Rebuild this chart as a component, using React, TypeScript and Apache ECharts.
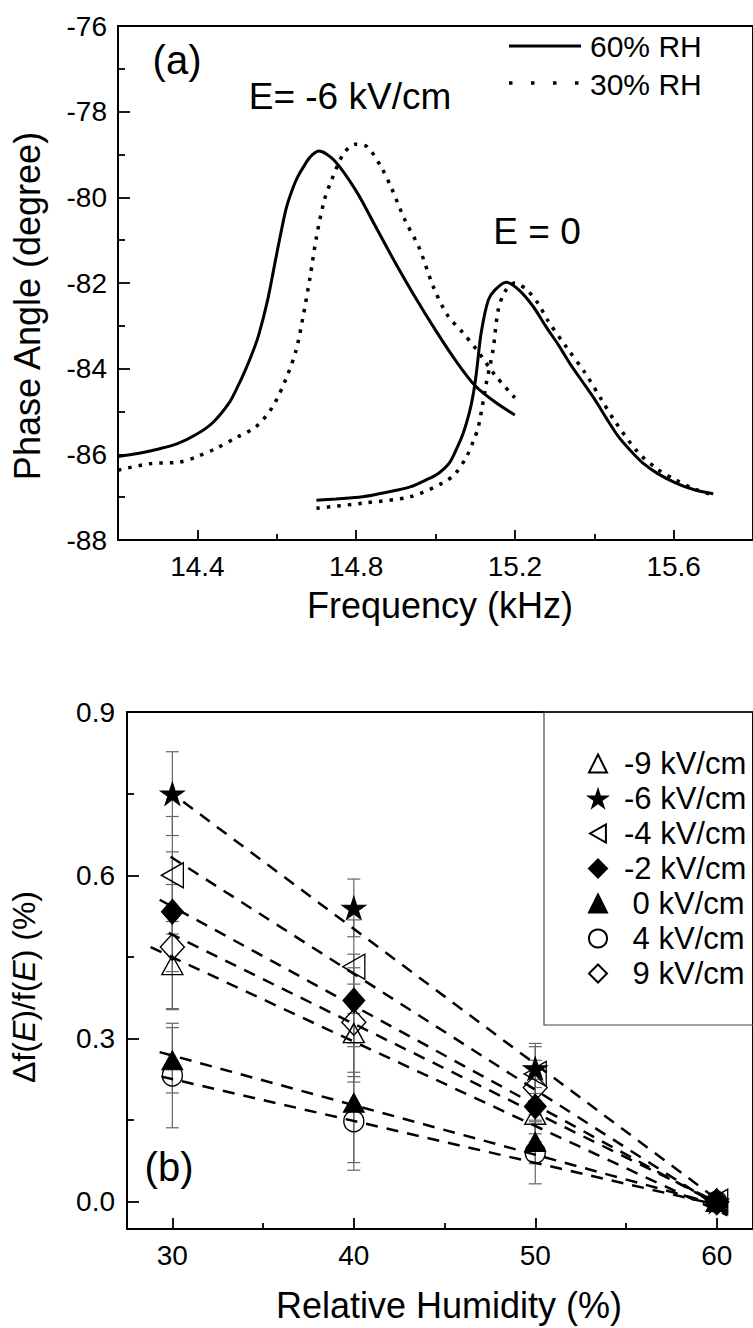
import React, { useEffect, useRef } from 'react';
import * as echarts from 'echarts';

const FONT = 'Liberation Sans, Arial, Helvetica, sans-serif';

// ---------- Panel (a): phase angle vs frequency ----------
const freq60Neg6 = [14.20, 14.25, 14.30, 14.35, 14.40, 14.44, 14.48, 14.50, 14.52, 14.54, 14.555, 14.577, 14.594, 14.61, 14.624, 14.64, 14.654, 14.67, 14.684, 14.706, 14.744, 14.80, 14.85, 14.90, 14.95, 15.00, 15.05, 15.10, 15.15, 15.20];
const phase60Neg6 = [-86.05, -85.98, -85.88, -85.75, -85.52, -85.25, -84.80, -84.45, -84.05, -83.60, -83.20, -82.40, -81.60, -80.85, -80.25, -79.80, -79.50, -79.25, -79.06, -78.92, -79.13, -79.85, -80.70, -81.55, -82.35, -83.10, -83.80, -84.40, -84.78, -85.08];

const freq30Neg6 = [14.20, 14.28, 14.355, 14.40, 14.45, 14.50, 14.547, 14.589, 14.624, 14.649, 14.666, 14.684, 14.70, 14.72, 14.738, 14.769, 14.798, 14.828, 14.863, 14.888, 14.923, 14.958, 14.995, 15.03, 15.068, 15.103, 15.15, 15.20];
const phase30Neg6 = [-86.37, -86.22, -86.18, -86.05, -85.85, -85.60, -85.36, -84.90, -84.22, -83.56, -82.80, -81.86, -80.93, -80.06, -79.60, -78.97, -78.76, -78.82, -79.29, -79.76, -80.53, -81.16, -82.10, -82.75, -83.15, -83.55, -84.15, -84.68];

const freq60Zero = [14.70, 14.75, 14.816, 14.88, 14.936, 14.98, 15.008, 15.035, 15.055, 15.07, 15.085, 15.095, 15.103, 15.115, 15.133, 15.15, 15.178, 15.21, 15.247, 15.277, 15.31, 15.34, 15.37, 15.402, 15.43, 15.462, 15.49, 15.522, 15.56, 15.606, 15.65, 15.70];
const phase60Zero = [-87.07, -87.04, -86.99, -86.88, -86.76, -86.58, -86.44, -86.20, -85.83, -85.50, -85.04, -84.60, -84.10, -83.17, -82.40, -82.16, -81.98, -82.16, -82.56, -83.00, -83.45, -83.90, -84.30, -84.73, -85.15, -85.60, -85.90, -86.20, -86.45, -86.67, -86.82, -86.92];

const freq30Zero = [14.70, 14.816, 14.936, 15.018, 15.05, 15.078, 15.095, 15.108, 15.128, 15.145, 15.158, 15.175, 15.20, 15.23, 15.258, 15.282, 15.33, 15.377, 15.42, 15.45, 15.51, 15.56, 15.606, 15.65, 15.70];
const phase30Zero = [-87.26, -87.14, -86.99, -86.67, -86.45, -86.06, -85.70, -85.36, -84.34, -83.56, -82.63, -82.20, -82.00, -82.16, -82.47, -82.86, -83.50, -84.10, -84.75, -85.20, -85.95, -86.35, -86.60, -86.80, -86.95];

const freqTicks = [14.4, 14.8, 15.2, 15.6];
const freqMinorTicks = [14.6, 15.0, 15.4];
const rhNames = ['60% RH', '30% RH'];

// ---------- Panel (b): relative frequency shift vs humidity ----------
const humidity = [30, 40, 50, 60];
const fieldNames = ['-9 kV/cm', '-6 kV/cm', '-4 kV/cm', '-2 kV/cm', '0 kV/cm', '4 kV/cm', '9 kV/cm'];
const shiftNeg9 = [0.435, 0.31, 0.16, 0];
const shiftNeg6 = [0.75, 0.54, 0.245, 0];
const shiftNeg4 = [0.60, 0.432, 0.235, 0];
const shiftNeg2 = [0.533, 0.37, 0.175, 0];
const shiftZero = [0.26, 0.182, 0.11, 0];
const shiftPos4 = [0.232, 0.148, 0.09, 0];
const shiftPos9 = [0.468, 0.33, 0.21, 0];

const errNeg9 = [0.08, 0.09, 0.05, 0];
const errNeg6 = [0.077, 0.053, 0.046, 0];
const errNeg4 = [0.108, 0.086, 0.05, 0];
const errNeg2 = [0.11, 0.085, 0.05, 0];
const errZero = [0.06, 0.11, 0.04, 0];
const errPos4 = [0.096, 0.09, 0.057, 0];
const errPos9 = [0.115, 0.1, 0.05, 0];

// dashed linear fits: start and end points
const fitStartX = [28.8, 30.6, 29.9, 29.3, 29.3, 29.4, 29.8];
const fitStartY = [0.468, 0.735, 0.634, 0.555, 0.275, 0.23, 0.494];
const fitEndX = [60.6, 60.6, 60.6, 60.6, 60.6, 60.6, 60.6];
const fitEndY = [-0.025, -0.01, -0.02, -0.015, -0.01, -0.01, -0.01];

const humidityTicks = [30, 40, 50, 60];
const humidityMinorTicks = [35, 45, 55];
const shiftTicks = [0, 0.3, 0.6, 0.9];
const shiftMinorTicks = [0.15, 0.45, 0.75];

const STAR = 'path://M0,-50 L11.2,-15.5 L47.6,-15.5 L18.2,5.9 L29.4,40.5 L0,19.1 L-29.4,40.5 L-18.2,5.9 L-47.6,-15.5 L-11.2,-15.5 Z';
const LEFT_TRI = 'path://M88,0 L88,100 L0,50 Z';

const shiftValues = [shiftNeg9, shiftNeg6, shiftNeg4, shiftNeg2, shiftZero, shiftPos4, shiftPos9];
const shiftErrors = [errNeg9, errNeg6, errNeg4, errNeg2, errZero, errPos4, errPos9];
const markerLook = [
  { symbol: 'triangle', filled: false, size: [21, 19] },
  { symbol: STAR, filled: true, size: [24, 23] },
  { symbol: LEFT_TRI, filled: false, size: [22, 25] },
  { symbol: 'diamond', filled: true, size: [22, 25] },
  { symbol: 'triangle', filled: true, size: [21, 19] },
  { symbol: 'circle', filled: false, size: [20, 21] },
  { symbol: 'diamond', filled: false, size: [24, 26] },
];

const zip = (xs: number[], ys: number[]) => xs.map((x, i) => [x, ys[i]]);

function buildOption(): any {
  const axisLineStyle = { color: '#000', width: 2 };
  const tickStyle = { color: '#000', width: 1.8 };
  const labelStyle = { fontSize: 28, fontFamily: FONT, color: '#000' };

  const curveSeries = [
    { name: rhNames[0], x: freq60Neg6, y: phase60Neg6, dotted: false },
    { name: rhNames[1], x: freq30Neg6, y: phase30Neg6, dotted: true },
    { name: rhNames[0], x: freq60Zero, y: phase60Zero, dotted: false },
    { name: rhNames[1], x: freq30Zero, y: phase30Zero, dotted: true },
  ].map((c) => ({
    type: 'line',
    name: c.name,
    xAxisIndex: 0,
    yAxisIndex: 0,
    data: zip(c.x, c.y),
    symbol: 'none',
    smooth: 0.3,
    lineStyle: c.dotted
      ? { color: '#000', width: 3.5, type: [3.5, 7] }
      : { color: '#000', width: 3 },
    itemStyle: { color: '#000' },
    z: 3,
  }));

  const errorRows: number[][] = [];
  shiftValues.forEach((vals, s) => {
    vals.forEach((v, i) => {
      const e = shiftErrors[s][i];
      if (e > 0) errorRows.push([humidity[i], v - e, v + e]);
    });
  });

  const errorSeries = {
    type: 'custom',
    name: 'error bars',
    xAxisIndex: 2,
    yAxisIndex: 1,
    silent: true,
    z: 1,
    data: errorRows,
    encode: { x: 0, y: [1, 2] },
    renderItem: (params: any, api: any) => {
      const x = api.value(0);
      const lo = api.coord([x, api.value(1)]);
      const hi = api.coord([x, api.value(2)]);
      const cap = 6.5;
      const st = { stroke: '#666', lineWidth: 1.2 };
      return {
        type: 'group',
        children: [
          { type: 'line', shape: { x1: lo[0], y1: lo[1], x2: hi[0], y2: hi[1] }, style: st },
          { type: 'line', shape: { x1: lo[0] - cap, y1: lo[1], x2: lo[0] + cap, y2: lo[1] }, style: st },
          { type: 'line', shape: { x1: hi[0] - cap, y1: hi[1], x2: hi[0] + cap, y2: hi[1] }, style: st },
        ],
      };
    },
  };

  const fitSeries = fieldNames.map((n, s) => ({
    type: 'line',
    name: 'fit ' + n,
    xAxisIndex: 2,
    yAxisIndex: 1,
    data: [[fitStartX[s], fitStartY[s]], [fitEndX[s], fitEndY[s]]],
    symbol: 'none',
    silent: true,
    lineStyle: { color: '#000', width: 2.5, type: [12, 9] },
    z: 2,
  }));

  const markerSeries = fieldNames.map((n, s) => {
    const look = markerLook[s];
    return {
      type: 'scatter',
      name: n,
      xAxisIndex: 2,
      yAxisIndex: 1,
      data: zip(humidity, shiftValues[s]),
      symbol: look.symbol,
      symbolSize: look.size,
      symbolKeepAspect: false,
      itemStyle: look.filled
        ? { color: '#000', borderColor: '#000', borderWidth: 1, opacity: 1 }
        : { color: 'rgba(255,255,255,0)', borderColor: '#000', borderWidth: 1.4, opacity: 1 },
      z: 4,
    };
  });

  const t = (text: string, x: number, y: number, size: number, extra: any = {}) => ({
    type: 'text',
    x,
    y,
    ...extra,
    style: {
      text,
      fontSize: size,
      fontFamily: FONT,
      fill: '#000',
      align: extra.align || 'center',
      verticalAlign: 'middle',
      ...(extra.style || {}),
    },
  });

  const noZero = { onZero: false };

  return {
    animation: false,
    backgroundColor: '#fff',
    grid: [
      { left: 118, top: 26, width: 642, height: 514, show: true, borderColor: '#000', borderWidth: 2, backgroundColor: 'transparent' },
      { left: 127, top: 712, width: 633, height: 517, show: true, borderColor: '#000', borderWidth: 2, backgroundColor: 'transparent' },
    ],
    xAxis: [
      {
        type: 'value', gridIndex: 0, position: 'bottom', min: 14.2, max: 15.8,
        axisLine: { show: true, ...noZero, lineStyle: axisLineStyle },
        axisTick: { show: true, inside: true, length: 10, lineStyle: tickStyle, customValues: freqTicks },
        axisLabel: { show: true, margin: 12, ...labelStyle, customValues: freqTicks, formatter: (v: number) => v.toFixed(1) },
        splitLine: { show: false },
      },
      {
        type: 'value', gridIndex: 0, position: 'bottom', min: 14.2, max: 15.8,
        axisLine: { show: false, ...noZero },
        axisTick: { show: true, inside: true, length: 6, lineStyle: tickStyle, customValues: freqMinorTicks },
        axisLabel: { show: false },
        splitLine: { show: false },
      },
      {
        type: 'value', gridIndex: 1, position: 'bottom', min: 27.5, max: 62,
        axisLine: { show: true, ...noZero, lineStyle: axisLineStyle },
        axisTick: { show: true, inside: true, length: 11, lineStyle: tickStyle, customValues: humidityTicks },
        axisLabel: { show: true, margin: 12, ...labelStyle, customValues: humidityTicks },
        splitLine: { show: false },
      },
      {
        type: 'value', gridIndex: 1, position: 'bottom', min: 27.5, max: 62,
        axisLine: { show: false, ...noZero },
        axisTick: { show: true, inside: true, length: 6, lineStyle: tickStyle, customValues: humidityMinorTicks },
        axisLabel: { show: false },
        splitLine: { show: false },
      },
    ],
    yAxis: [
      {
        type: 'value', gridIndex: 0, position: 'left', min: -88, max: -76, interval: 2,
        axisLine: { show: true, ...noZero, lineStyle: axisLineStyle },
        axisTick: { show: true, inside: true, length: 12, lineStyle: tickStyle },
        minorTick: { show: true, splitNumber: 2, length: 7, lineStyle: tickStyle },
        axisLabel: { show: true, margin: 11, ...labelStyle },
        splitLine: { show: false },
      },
      {
        type: 'value', gridIndex: 1, position: 'left', min: -0.05, max: 0.9,
        axisLine: { show: true, ...noZero, lineStyle: axisLineStyle },
        axisTick: { show: true, inside: true, length: 12, lineStyle: tickStyle, customValues: shiftTicks },
        axisLabel: { show: true, margin: 12, ...labelStyle, customValues: shiftTicks, formatter: (v: number) => v.toFixed(1) },
        splitLine: { show: false },
      },
      {
        type: 'value', gridIndex: 1, position: 'left', min: -0.05, max: 0.9,
        axisLine: { show: false, ...noZero },
        axisTick: { show: true, inside: true, length: 7, lineStyle: tickStyle, customValues: shiftMinorTicks },
        axisLabel: { show: false },
        splitLine: { show: false },
      },
    ],
    legend: [
      {
        id: 'legendB',
        orient: 'vertical',
        left: 583,
        top: 743,
        itemWidth: 18,
        itemHeight: 18,
        itemGap: 4,
        selectedMode: false,
        data: fieldNames,
        formatter: (name: string) => (name.startsWith('-') ? name : '\u00A0' + name),
        textStyle: { fontSize: 31, fontFamily: FONT, color: '#000', padding: [0, 0, 0, 12] },
      },
    ],
    graphic: [
      {
        type: 'rect',
        shape: { x: 544, y: 712, width: 240, height: 313 },
        style: { fill: 'none', stroke: '#444', lineWidth: 1.2 },
        z: 0,
      },
      // legend of panel (a)
      { type: 'line', shape: { x1: 509, y1: 46, x2: 581, y2: 46 }, style: { stroke: '#000', lineWidth: 3 } },
      { type: 'line', shape: { x1: 509, y1: 83, x2: 581, y2: 83 }, style: { stroke: '#000', lineWidth: 3.5, lineDash: [3.5, 18.5] } },
      t(rhNames[0], 590, 46, 30, { align: 'left' }),
      t(rhNames[1], 590, 84, 30, { align: 'left' }),
      t('(a)', 177, 60, 40),
      t('E= -6 kV/cm', 350, 96, 37),
      t('E = 0', 537, 231, 37),
      t('(b)', 169, 1167, 40),
      t('Frequency (kHz)', 440, 605, 36),
      t('Relative Humidity (%)', 449, 1305, 36),
      t('Phase Angle (degree)', 27, 306, 36, { rotation: Math.PI / 2 }),
      t('\u0394f({i|E})/f({i|E}) (%)', 24, 987, 32, {
        rotation: Math.PI / 2,
        style: { rich: { i: { fontStyle: 'italic', fontSize: 32, fontFamily: FONT, fill: '#000' } } },
      }),
    ],
    series: [...curveSeries, errorSeries, ...fitSeries, ...markerSeries],
  };
}

export default function App() {
  const ref = useRef<HTMLDivElement>(null);
  useEffect(() => {
    if (!ref.current) return;
    const chart = echarts.init(ref.current, null, { renderer: 'svg' });
    chart.setOption(buildOption());
    return () => chart.dispose();
  }, []);
  return (
    <div
      ref={ref}
      style={{ position: 'absolute', left: 0, top: 0, width: 753, height: 1328, background: '#fff' }}
    />
  );
}
